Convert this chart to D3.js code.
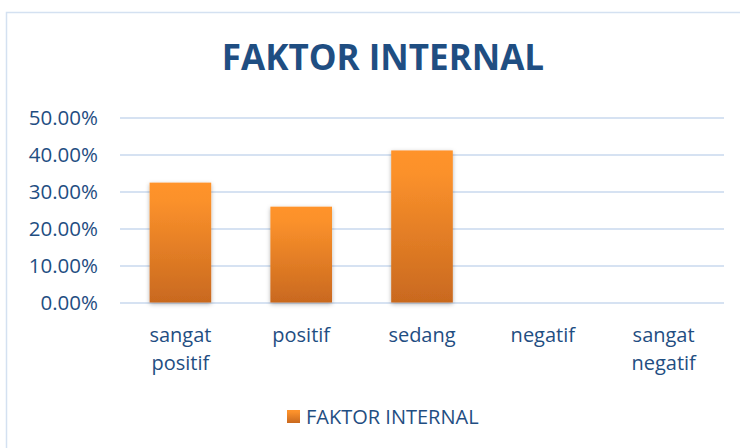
<!DOCTYPE html>
<html>
<head>
<meta charset="utf-8">
<script src="https://cdn.jsdelivr.net/npm/d3@7"></script>
<style>
  body { margin: 0; background: #fff; }
  svg { display: block; font-family: "Open Sans", sans-serif; }
</style>
</head>
<body>
<div id="chart"></div>
<script>
// data
var categories = [["sangat", "positif"], ["positif"], ["sedang"], ["negatif"], ["sangat", "negatif"]];
var values = [0.324, 0.259, 0.411, 0, 0];
var yTicks = [0, 0.1, 0.2, 0.3, 0.4, 0.5];
var seriesName = "FAKTOR INTERNAL";
var chartTitle = "FAKTOR INTERNAL";

var fullWidth = 740, fullHeight = 448;
var margin = {top: 117.5, right: 16, bottom: 145.5, left: 120},
    width = fullWidth - margin.left - margin.right,
    height = fullHeight - margin.top - margin.bottom;

var textColor = "#1f4e82";

var svg = d3.select("#chart").append("svg")
    .attr("width", fullWidth)
    .attr("height", fullHeight);

var defs = svg.append("defs");
var grad = defs.append("linearGradient")
    .attr("id", "barGrad")
    .attr("x1", 0).attr("y1", 0).attr("x2", 0).attr("y2", 1);
grad.append("stop").attr("offset", "0%").attr("stop-color", "#ff932b");
grad.append("stop").attr("offset", "15%").attr("stop-color", "#fb912b");
grad.append("stop").attr("offset", "100%").attr("stop-color", "#c9691f");

var shadow = defs.append("filter").attr("id", "shadow")
    .attr("x", "-20%").attr("y", "-10%").attr("width", "140%").attr("height", "120%");
shadow.append("feDropShadow")
    .attr("dx", 0).attr("dy", 1.5).attr("stdDeviation", 2)
    .attr("flood-color", "#000").attr("flood-opacity", 0.3);

// chart border
svg.append("rect")
    .attr("x", 6.5).attr("y", 12.5)
    .attr("width", 760).attr("height", 460)
    .attr("fill", "none")
    .attr("stroke", "#d4e1f1")
    .attr("stroke-width", 1.5);

// title
svg.append("text")
    .attr("x", 383)
    .attr("y", 70)
    .attr("text-anchor", "middle")
    .attr("font-size", 35)
    .attr("font-weight", "bold")
    .attr("fill", textColor)
    .text(chartTitle);

var x = d3.scaleBand()
    .domain(d3.range(categories.length))
    .range([0, width])
    .paddingInner(0.49)
    .paddingOuter(0.245);

var y = d3.scaleLinear()
    .domain([0, 0.5])
    .range([height, 0]);

var g = svg.append("g")
    .attr("transform", "translate(" + margin.left + "," + margin.top + ")");

// gridlines
g.append("g")
    .attr("class", "grid")
    .call(d3.axisLeft(y).tickValues(yTicks).tickSize(-width).tickFormat(""))
    .call(function(s) {
        s.select(".domain").remove();
        s.selectAll(".tick line").attr("stroke", "#d6e2f2").attr("stroke-width", 2);
    });

// y axis labels
g.append("g")
    .attr("class", "y axis")
    .call(d3.axisLeft(y).tickValues(yTicks).tickSize(0).tickPadding(22)
        .tickFormat(function(d) { return d3.format(".2f")(d * 100) + "%"; }))
    .call(function(s) {
        s.select(".domain").remove();
        s.selectAll(".tick text")
            .attr("fill", textColor)
            .attr("font-size", 20.5)
            .attr("font-family", "Open Sans, sans-serif");
    });

// bars
g.selectAll(".bar")
    .data(values)
    .enter().append("rect")
    .attr("class", "bar")
    .attr("x", function(d, i) { return x(i); })
    .attr("y", function(d) { return y(d); })
    .attr("width", x.bandwidth())
    .attr("height", function(d) { return height - y(d); })
    .attr("fill", "url(#barGrad)")
    .attr("filter", "url(#shadow)")
    .style("display", function(d) { return d > 0 ? null : "none"; });

// category labels
var cat = g.selectAll(".cat")
    .data(categories)
    .enter().append("text")
    .attr("class", "cat")
    .attr("text-anchor", "middle")
    .attr("font-size", 20)
    .attr("fill", textColor)
    .attr("transform", function(d, i) {
        return "translate(" + (x(i) + x.bandwidth() / 2) + "," + (height + 39.5) + ")";
    });
cat.selectAll("tspan")
    .data(function(d) { return d; })
    .enter().append("tspan")
    .attr("x", 0)
    .attr("dy", function(d, i) { return i === 0 ? 0 : 28; })
    .text(function(d) { return d; });

// legend
var legend = svg.append("g")
    .attr("transform", "translate(287,410)");
legend.append("rect")
    .attr("width", 13).attr("height", 13)
    .attr("fill", "url(#barGrad)");
legend.append("text")
    .attr("x", 19)
    .attr("y", 13.5)
    .attr("font-size", 20)
    .attr("fill", textColor)
    .text(seriesName);
</script>
</body>
</html>
